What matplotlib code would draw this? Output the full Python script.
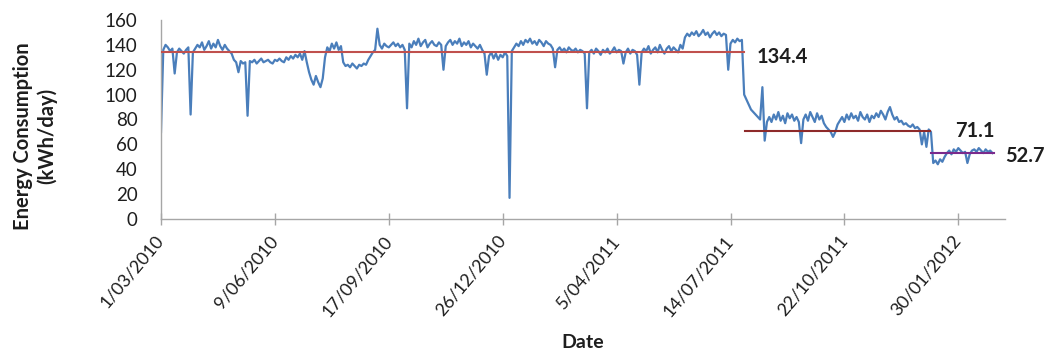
import matplotlib
matplotlib.use("Agg")
import matplotlib.pyplot as plt
import pandas as pd

# Daily energy use, sampled every second day from 1 March 2010
start_date = "2010-03-01"
sample_step_days = 2
consumption = [
    # Mar 2010 - Apr 2010
    70, 136, 140, 138, 135, 137, 117, 134, 137, 135, 133, 136, 138,
    84,
    134, 137, 140, 138, 142, 136, 139, 143, 137, 141, 138, 144, 139, 136, 140, 137, 135, 133,
    # May 2010 - Jul 2010
    128, 126, 118, 127, 125, 126, 83,
    127, 126, 128, 125, 127, 129, 126, 127, 128, 126, 125, 128, 127, 129, 127, 126, 130, 128,
    131, 129, 132, 130,
    # Jul 2010 - Sep 2010
    133, 128, 135, 126,
    118, 112, 108, 115, 110, 106, 113,
    130, 138, 135, 141, 137, 142, 136, 139,
    126, 123, 124, 122, 125, 123, 121, 124, 123, 125,
    124, 128, 131, 134, 136,
    153,
    # Sep 2010 - Dec 2010
    140, 137, 141, 139, 138, 140, 142, 139, 141, 138,
    140, 136, 89,
    141, 138, 143, 140, 145, 139, 142, 144, 138, 141, 143, 140, 139, 142, 140,
    120,
    139, 142, 144, 140, 143, 141, 145, 139, 142, 140, 143, 138, 141, 139, 137, 140,
    136, 133, 116,
    131, 134, 129, 133, 128, 132, 130,
    134, 131, 17,
    # Jan 2011 - Apr 2011
    135, 138, 141, 139, 143, 140, 144, 142, 145, 141, 143, 140, 144, 142, 139, 143, 141, 140,
    137, 122,
    136, 138, 135, 137, 134, 138, 136, 135, 137, 134, 136,
    135, 133, 89,
    134, 136, 133, 137, 135, 132, 136, 134, 137, 133, 135, 138, 134, 136, 135,
    125,
    134, 137, 133, 136, 135, 132,
    108,
    # Jun 2011 - Jul 2011
    134, 137, 135, 139, 133, 136, 138, 134, 140, 136, 133, 137, 139, 135, 138, 136, 134, 140, 137,
    146, 149, 147, 150, 148, 151, 147, 149, 152, 148, 150, 146, 149, 151, 148, 150, 147, 149, 148,
    120,
    141, 144, 142, 145, 143, 144,
    # Aug 2011 - Dec 2011
    100, 96, 92, 88, 86, 84, 82,
    80, 106, 63, 78,
    82, 78, 84, 80, 86, 79, 83, 77, 85, 81, 84, 79, 82, 78,
    61,
    80, 84, 79, 86, 82, 78, 85, 80, 83, 77,
    74, 72, 70, 66, 70,
    76, 79, 82, 78, 84, 80, 85, 81, 83, 79, 86, 82, 80, 84, 78, 83, 81, 85, 82, 87, 84, 80, 86, 90,
    84, 80, 82, 78, 79, 76, 77, 75, 74, 76, 73, 74, 72,
    # Jan 2012 - Mar 2012
    60, 70, 58, 72, 70,
    45, 47, 44, 48, 46, 50,
    53, 55, 52, 56, 54, 57, 55, 53, 54,
    45,
    52, 55, 56, 54, 57, 55, 53, 56, 54, 55, 53,
]

# Average consumption over each period
period_starts = ["2010-03-01", "2011-07-27", "2012-01-06"]
period_ends = ["2011-07-26", "2012-01-05", "2012-03-01"]
period_means = [134.4, 71.1, 52.7]
period_colors = ["#C0504D", "#8E2A2A", "#7A2A8C"]
label_offsets_px = [(13, -5), (25, 0), (12, -3)]

tick_labels = ["1/03/2010", "9/06/2010", "17/09/2010", "26/12/2010",
               "5/04/2011", "14/07/2011", "22/10/2011", "30/01/2012"]
tick_step_days = 100

dates = pd.date_range(start_date, periods=len(consumption), freq=f"{sample_step_days}D")
tick_dates = pd.date_range(start_date, periods=len(tick_labels), freq=f"{tick_step_days}D")

plt.rcParams["font.family"] = ["Lato", "DejaVu Sans"]
text_color = "#1e1e1e"
axis_color = "#a6a6a6"

fig = plt.figure(figsize=(10.48, 3.54), dpi=100)
ax = fig.add_axes([161 / 1048, 1 - 219 / 354, (1005 - 161) / 1048, (219 - 20) / 354])

ax.plot(dates, consumption, color="#4A7EBB", lw=1.6, zorder=2)

for s, e, m, c, off in zip(period_starts, period_ends, period_means, period_colors, label_offsets_px):
    s, e = pd.Timestamp(s), pd.Timestamp(e)
    ax.plot([s, e], [m, m], color=c, lw=1.5, zorder=3)
    ax.annotate(f"{m:.1f}", xy=(e, m), xytext=off, textcoords="offset pixels",
                ha="left", va="center", fontsize=14.5, fontweight="bold", color=text_color)

ax.set_ylim(0, 160)
ax.set_yticks(range(0, 161, 20))
ax.set_xlim(pd.Timestamp(start_date), pd.Timestamp(start_date) + pd.Timedelta(days=741))
ax.set_xticks(tick_dates)
ax.set_xticklabels(tick_labels, rotation=50, ha="right", va="center", rotation_mode="anchor")

ax.tick_params(axis="y", length=0, pad=17, labelsize=13.5, labelcolor=text_color)
ax.tick_params(axis="x", direction="inout", length=9, width=1, color=axis_color,
               pad=9, labelsize=13, labelcolor=text_color)

for side in ("top", "right"):
    ax.spines[side].set_visible(False)
for side in ("left", "bottom"):
    ax.spines[side].set_color(axis_color)
    ax.spines[side].set_linewidth(1)

fig.text(35 / 1048, 1 - 136 / 354, "Energy Consumption\n(kWh/day)", rotation=90,
         ha="center", va="center", fontsize=14.5, fontweight="bold", color=text_color,
         linespacing=1.25)
fig.text(583 / 1048, 1 - 343 / 354, "Date", ha="center", va="center",
         fontsize=14, fontweight="bold", color=text_color)

fig.savefig("out.png", dpi=100)
